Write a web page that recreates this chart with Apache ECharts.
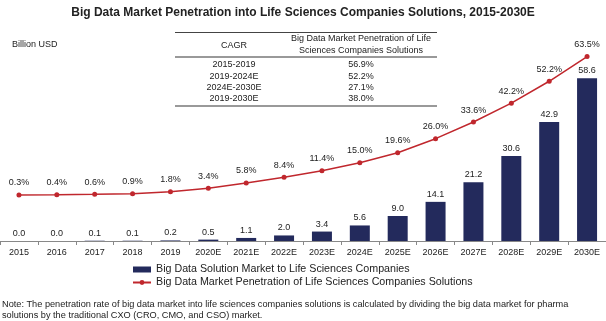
<!DOCTYPE html>
<html><head><meta charset="utf-8">
<script src="https://cdn.jsdelivr.net/npm/echarts@6/dist/echarts.min.js"></script>
<style>html,body{margin:0;padding:0;background:#fff}#c{width:606px;height:321px}</style>
</head><body><div id="c"></div>
<script>
const categories = ['2015','2016','2017','2018','2019','2020E','2021E','2022E','2023E','2024E','2025E','2026E','2027E','2028E','2029E','2030E'];
const marketValues = [0.0,0.0,0.1,0.1,0.2,0.5,1.1,2.0,3.4,5.6,9.0,14.1,21.2,30.6,42.9,58.6];
const penetration = [0.3,0.4,0.6,0.9,1.8,3.4,5.8,8.4,11.4,15.0,19.6,26.0,33.6,42.2,52.2,63.5];
const cagrPeriods = ['2015-2019','2019-2024E','2024E-2030E','2019-2030E'];
const cagrValues = ['56.9%','52.2%','27.1%','38.0%'];
const barName = 'Big Data Solution Market to Life Sciences Companies';
const lineName = 'Big Data Market Penetration of Life Sciences Companies Solutions';
const FONT = 'Liberation Sans, Arial, sans-serif';

const chart = echarts.init(document.getElementById('c'), null, {renderer:'canvas'});
const graphics = [];
const tFont = '9px ' + FONT;
graphics.push({type:'line', shape:{x1:175,y1:32.5,x2:437,y2:32.5}, style:{stroke:'#444',lineWidth:1}});
graphics.push({type:'line', shape:{x1:175,y1:57,x2:437,y2:57}, style:{stroke:'#777',lineWidth:1.5}});
graphics.push({type:'line', shape:{x1:175,y1:106,x2:437,y2:106}, style:{stroke:'#777',lineWidth:1.5}});
graphics.push({type:'text', x:234, y:46, style:{text:'CAGR', font:tFont, fill:'#222', align:'center', verticalAlign:'middle'}});
graphics.push({type:'text', x:361, y:38.5, style:{text:'Big Data Market Penetration of Life', font:tFont, fill:'#222', align:'center', verticalAlign:'middle'}});
graphics.push({type:'text', x:361, y:50.5, style:{text:'Sciences Companies Solutions', font:tFont, fill:'#222', align:'center', verticalAlign:'middle'}});
const rowY = [65, 76.3, 87.7, 99];
cagrPeriods.forEach((p,i)=>{
  graphics.push({type:'text', x:234, y:rowY[i], style:{text:p, font:tFont, fill:'#222', align:'center', verticalAlign:'middle'}});
  graphics.push({type:'text', x:361, y:rowY[i], style:{text:cagrValues[i], font:tFont, fill:'#222', align:'center', verticalAlign:'middle'}});
});
graphics.push({type:'text', x:12, y:45, style:{text:'Billion USD', font:tFont, fill:'#222', verticalAlign:'middle'}});
graphics.push({type:'text', x:2, y:304, style:{text:'Note: The penetration rate of big data market into life sciences companies solutions is calculated by dividing the big data market for pharma', font:'9.2px '+FONT, fill:'#222', verticalAlign:'middle'}});
graphics.push({type:'text', x:2, y:315, style:{text:'solutions by the traditional CXO (CRO, CMO, and CSO) market.', font:'9.2px '+FONT, fill:'#222', verticalAlign:'middle'}});

chart.setOption({
  animation:false,
  title:{text:'Big Data Market Penetration into Life Sciences Companies Solutions, 2015-2030E', left:'center', top:2,
    textStyle:{fontFamily:FONT, fontSize:12, fontWeight:'bold', color:'#222'}},
  legend:{orient:'vertical', left:132, top:263.5, itemGap:1, itemWidth:18, itemHeight:6, padding:0,
    textStyle:{fontFamily:FONT, fontSize:10.7, color:'#222', lineHeight:12},
    data:[{name:barName, icon:'rect'}, {name:lineName}]},
  grid:{left:0, right:0, top:30, bottom:80, containLabel:false},
  xAxis:{type:'category', data:categories,
    axisLine:{lineStyle:{color:'#888', width:1}},
    axisTick:{show:true, length:4, lineStyle:{color:'#888'}},
    axisLabel:{fontFamily:FONT, fontSize:9, color:'#222', margin:7, interval:0}},
  yAxis:[
    {type:'value', min:0, max:76, show:false, splitLine:{show:false}},
    {type:'value', min:-20.7, max:75.6, show:false, splitLine:{show:false}}
  ],
  series:[
    {name:barName, type:'bar', data:marketValues, yAxisIndex:0, barWidth:20,
      itemStyle:{color:'#232a5c'},
      label:{show:true, position:'top', distance:3, fontFamily:FONT, fontSize:9, color:'#222', formatter:p=>p.value.toFixed(1)}},
    {name:lineName, type:'line', data:penetration, yAxisIndex:1, symbol:'circle', symbolSize:5,
      lineStyle:{color:'#c0272d', width:1.5}, itemStyle:{color:'#c0272d'},
      label:{show:true, position:'top', distance:5, fontFamily:FONT, fontSize:9, color:'#222', formatter:p=>p.value.toFixed(1)+'%'}}
  ],
  graphic:graphics
});
</script></body></html>
